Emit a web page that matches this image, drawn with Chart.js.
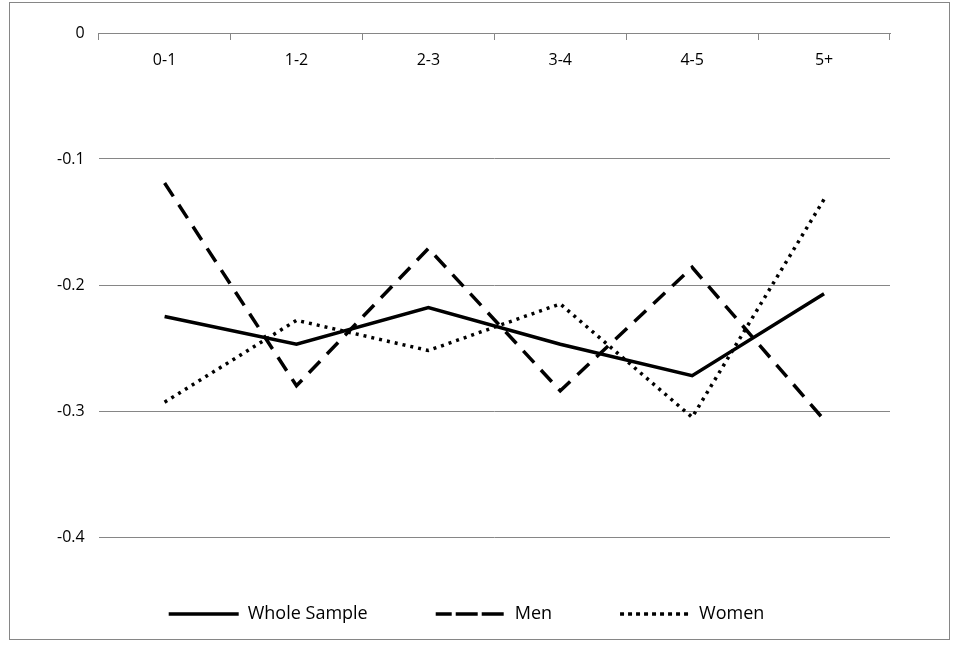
<!DOCTYPE html>
<html><head>
<script src="https://cdn.jsdelivr.net/npm/chart.js@4"></script>
<style>
body{margin:0;background:#fff}
#frame{position:absolute;left:9px;top:2px;width:941px;height:638px;border:1px solid #868686;box-sizing:border-box}
</style></head>
<body>
<div id="frame"><canvas id="c" width="939" height="636"></canvas></div>
<script>
const categories = ['0-1', '1-2', '2-3', '3-4', '4-5', '5+'];
const wholeSample = [-0.225, -0.247, -0.218, -0.247, -0.272, -0.207];
const men = [-0.119, -0.280, -0.171, -0.284, -0.186, -0.307];
const women = [-0.293, -0.228, -0.252, -0.215, -0.305, -0.132];
const yStep = 0.1;

function makeSeries(label, data, dash) {
    return {
        label: label,
        data: data,
        borderColor: '#000',
        backgroundColor: 'rgba(0,0,0,0)',
        borderWidth: 3.5,
        borderDash: dash,
        pointRadius: 0,
        tension: 0
    }
}

let ctx = document.getElementById('c').getContext('2d');
new Chart(ctx, {
    type: 'line',
    data: {
        labels: categories,
        datasets: [
            makeSeries('Whole Sample', wholeSample, []),
            makeSeries('Men', men, [16, 10]),
            makeSeries('Women', women, [3, 5])
        ]
    },
    options: {
        responsive: false,
        animation: false,
        layout: { padding: { left: 33, right: 59, top: 30, bottom: 6 } },
        plugins: {
            tooltip: { enabled: false },
            legend: {
                position: 'bottom',
                labels: {
                    color: '#000',
                    font: { family: 'Open Sans', size: 18 },
                    boxWidth: 70,
                    boxHeight: 0,
                    padding: 68
                }
            }
        },
        scales: {
            x: {
                position: { y: 0 },
                offset: true,
                grid: { display: true, drawOnChartArea: false, offset: true, color: '#868686', tickLength: 6 },
                border: { color: '#868686' },
                ticks: { color: '#000', font: { family: 'Open Sans', size: 16 }, padding: 12, maxRotation: 0 },
                afterFit: axis => { axis.height = 0 }
            },
            y: {
                min: -0.4,
                max: 0,
                grid: { color: '#868686', drawTicks: false },
                border: { display: false },
                ticks: {
                    stepSize: yStep,
                    color: '#000',
                    font: { family: 'Open Sans', size: 16 },
                    padding: 14,
                    callback: v => Math.abs(v) < 1e-9 ? '0' : v.toFixed(1)
                }
            }
        }
    }
});
</script>
</body></html>
